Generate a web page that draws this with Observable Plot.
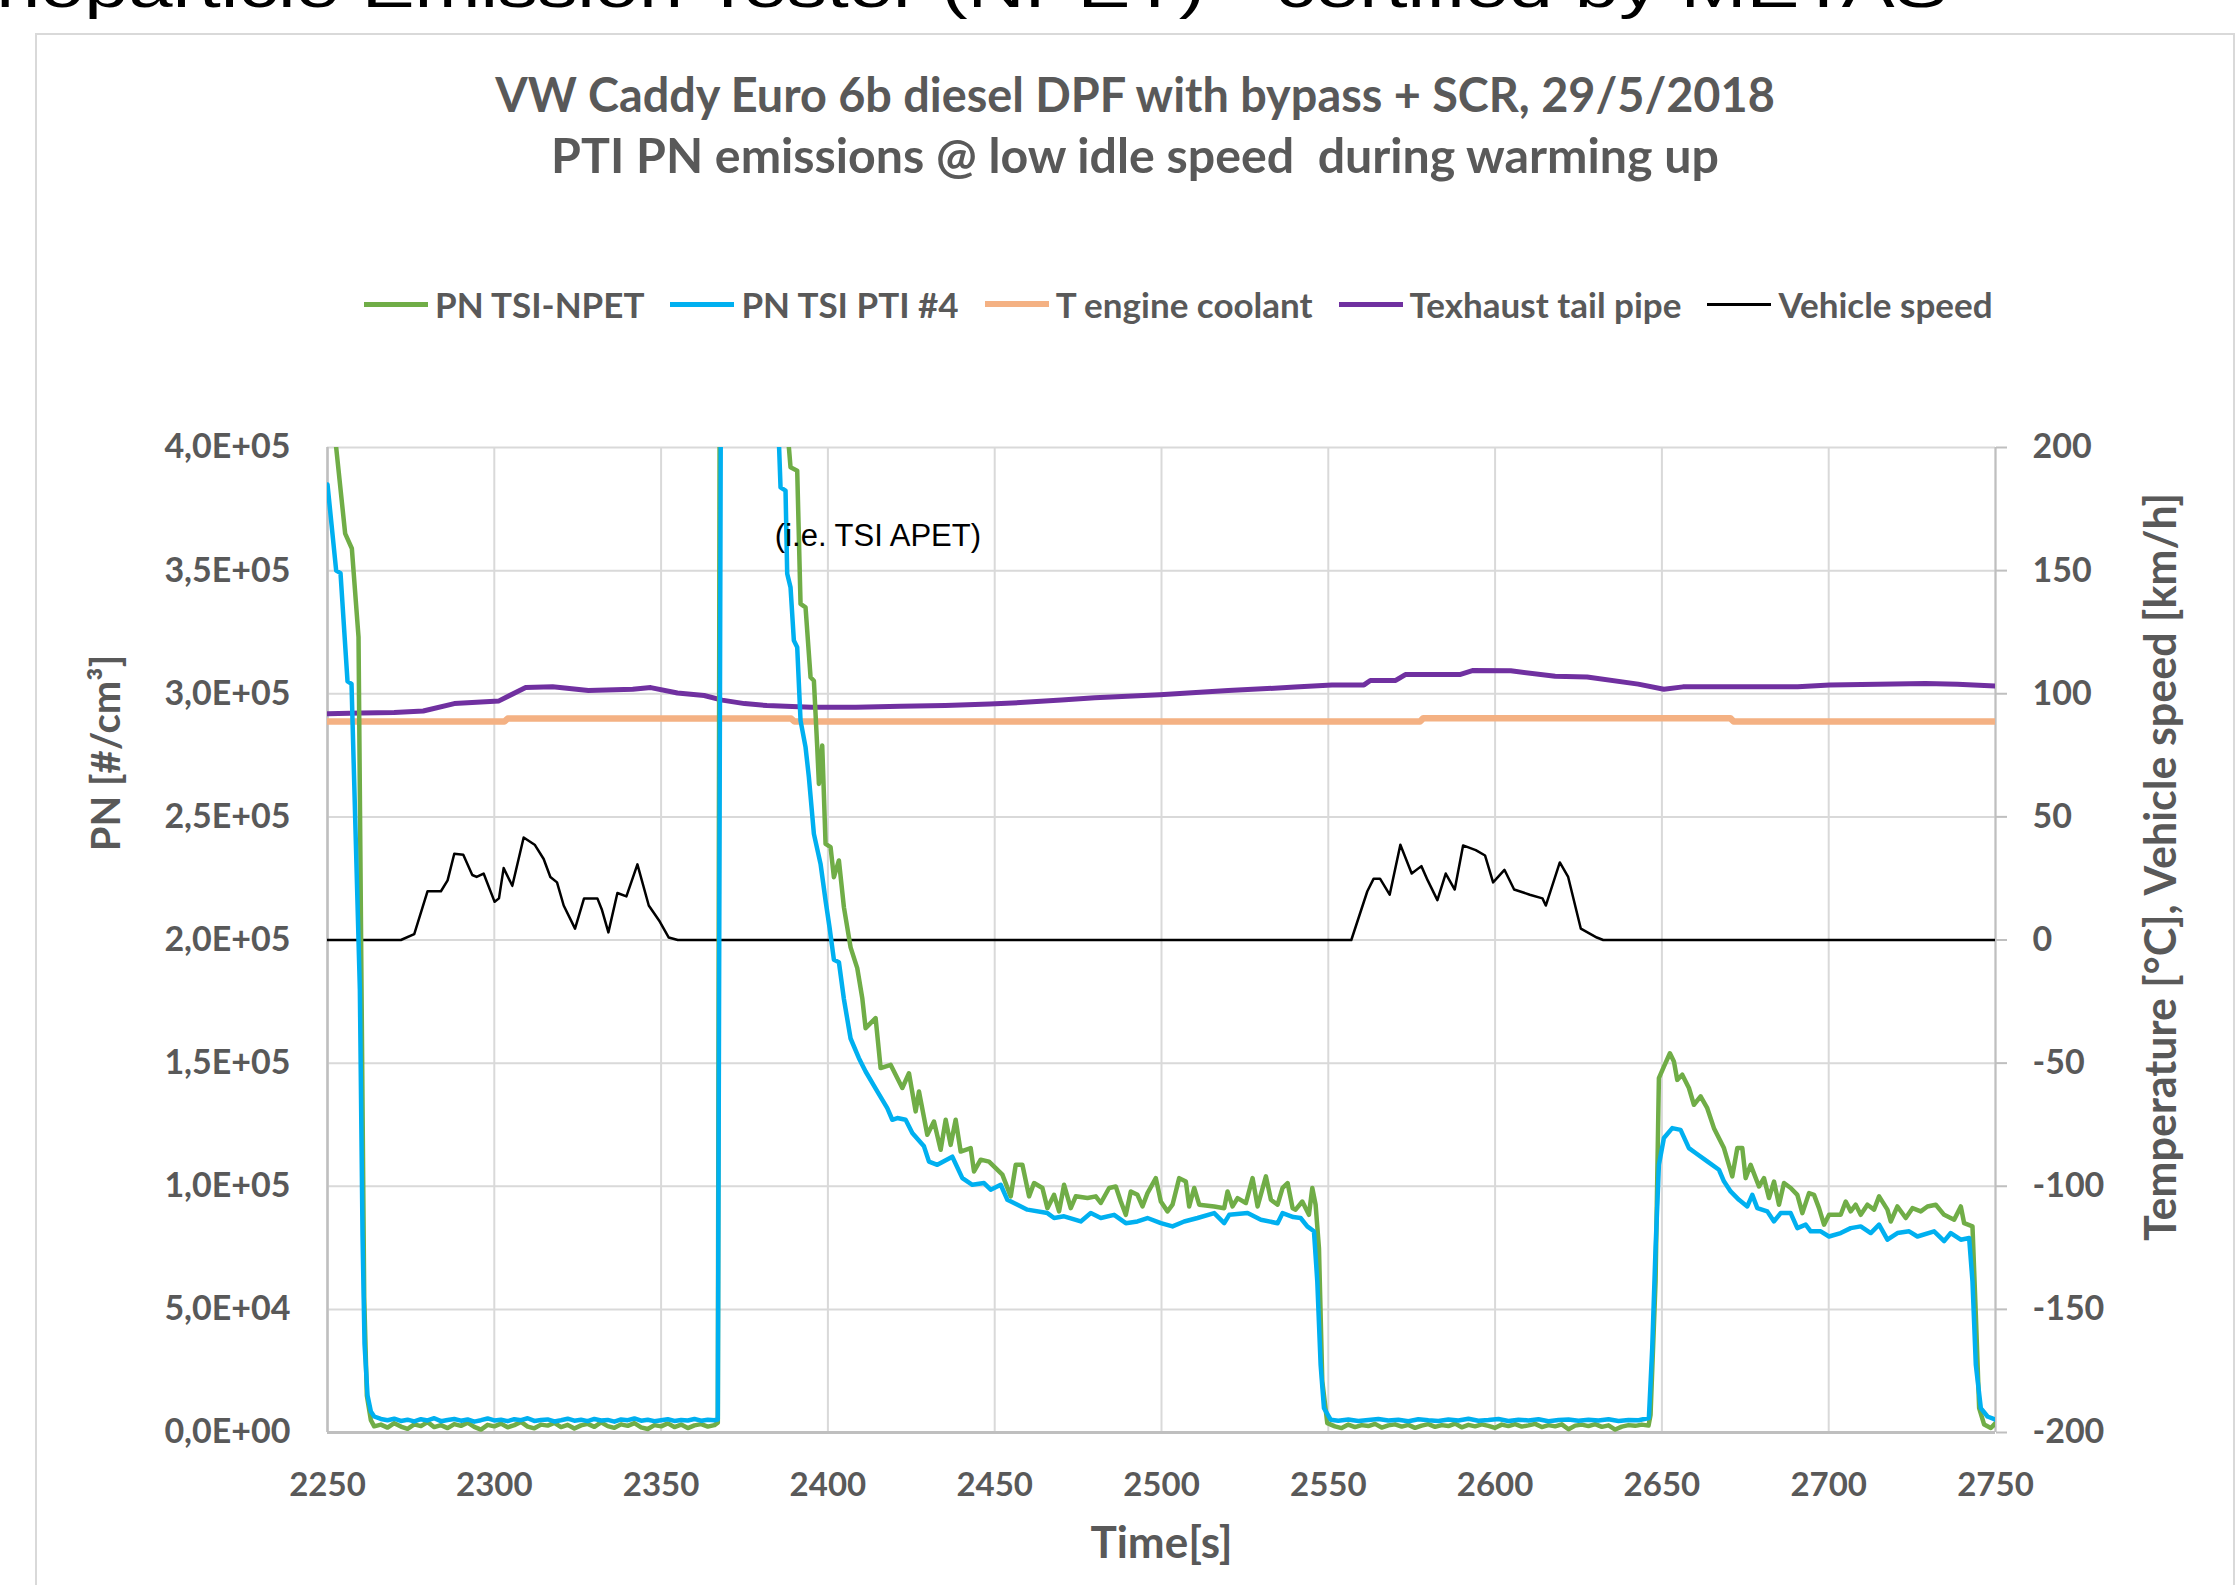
<!DOCTYPE html>
<html>
<head>
<meta charset="utf-8">
<script src="https://cdn.jsdelivr.net/npm/d3@7"></script>
<script src="https://cdn.jsdelivr.net/npm/@observablehq/plot@0.6"></script>
<style>
  html, body { margin: 0; padding: 0; background: #fff; }
  #page { position: relative; width: 2238px; height: 1585px; overflow: hidden; background: #fff; }
  #slidetitle { position: absolute; left: -105px; top: -43px; font-family: "Liberation Sans", Arial, sans-serif; font-size: 60px; line-height: 60px; color: #000; white-space: nowrap; transform: scaleX(1.32); transform-origin: left top; }
  #frame { position: absolute; left: 35px; top: 33px; width: 2200px; height: 1600px; box-sizing: border-box; border: 2.5px solid #d9d9d9; }
  .title { position: absolute; transform: translate(-50%, -50%); white-space: nowrap; font-family: Lato, "Open Sans", sans-serif; font-weight: bold; color: #595959; }
  #legend { position: absolute; left: 364px; top: 304px; transform: translateY(-50%); display: flex; align-items: center; gap: 26px; font-family: Lato, "Open Sans", sans-serif; font-weight: bold; color: #595959; font-size: 35px; white-space: nowrap; }
  .item { display: flex; align-items: center; gap: 7px; }
  .sw { width: 64px; display: inline-block; }
  #chart { position: absolute; left: 0; top: 380px; }
</style>
</head>
<body>
<div id="page">
  <div id="slidetitle">Nanoparticle Emission Tester (NPET) - certified by METAS</div>
  <div id="frame"></div>
  <div class="title" id="t1" style="left:1135px; top:94px; font-size:46.8px;">VW Caddy Euro 6b diesel DPF with bypass + SCR, 29/5/2018</div>
  <div class="title" id="t2" style="left:1135px; top:154px; font-size:48.3px;">PTI PN emissions @ low idle speed&nbsp; during warming up</div>
  <div id="legend"></div>
  <div id="chart"></div>
</div>
<script>
// ---------------- data (time [s], value) ----------------
const xTicks = [2250, 2300, 2350, 2400, 2450, 2500, 2550, 2600, 2650, 2700, 2750];
const pnTicks = [0, 50000, 100000, 150000, 200000, 250000, 300000, 350000, 400000];
const rightTicks = [-200, -150, -100, -50, 0, 50, 100, 150, 200];

const seriesNames = ["PN TSI-NPET", "PN TSI PTI #4", "T engine coolant", "Texhaust tail pipe", "Vehicle speed"];
const seriesColors = ["#70ad47", "#00b0f0", "#f4b183", "#7030a0", "#000000"];

// PN TSI-NPET [#/cm3]
const pnNpet = [
  [2250,430000],[2252.6,400000],[2255.3,365000],[2257.3,359000],[2259.3,323000],[2260.2,180000],[2261,55000],[2261.8,15000],[2263,5000],[2264,2500],
  [2266,3200],[2268,2000],[2270,3800],[2272,2400],[2274,1500],[2276,3300],[2278,2600],[2280,4200],[2282,2200],[2284,3000],[2286,1800],[2288,3400],
  [2290,2700],[2292,4000],[2294,2300],[2296,1200],[2298,3100],[2300,2500],[2302,3600],[2304,2100],[2306,3000],[2308,4300],[2310,2400],[2312,1700],
  [2314,3200],[2316,2800],[2318,3900],[2320,2200],[2322,3100],[2324,1600],[2326,2900],[2328,3500],[2330,2300],[2332,4100],[2334,2600],[2336,1900],
  [2338,3300],[2340,2700],[2342,3800],[2344,2100],[2346,1400],[2348,3000],[2350,2500],[2352,3700],[2354,2200],[2356,3200],[2358,1800],[2360,2900],
  [2362,3400],[2364,2400],[2366,3000],[2367,4000],[2367.6,450000],[2370,600000],[2386,520000],[2388.3,400100],[2388.8,392000],[2390.8,390600],
  [2391.8,336500],[2393.3,335100],[2394.8,306700],[2395.8,305300],[2396.8,278300],[2397.3,263400],[2398.3,279000],[2399.3,239000],[2400.8,237700],
  [2401.8,225500],[2403.3,232300],[2404.8,213300],[2406.8,197000],[2408.8,188600],[2410.3,176400],[2411.3,164200],[2414.3,168300],[2415.8,148000],
  [2418.8,149300],[2422.3,139900],[2424.3,145900],[2426.3,130400],[2427.3,138500],[2429.8,120900],[2431.8,126300],[2433.8,114800],[2435.3,127000],
  [2436.8,116800],[2438.3,127000],[2439.8,114100],[2442.8,115500],[2443.8,106000],[2445.8,110800],[2448.3,110000],[2452.3,104700],[2454.8,95900],
  [2456.3,108700],[2458.3,108700],[2460.3,95900],[2461.8,101300],[2464.3,99300],[2465.8,91100],[2467.8,96500],[2469.3,89800],[2470.8,100600],
  [2472.8,91100],[2474.3,95900],[2477.8,95200],[2480.3,95900],[2481.8,93200],[2484.3,99300],[2486.3,99900],[2487.8,93800],[2489.3,88400],
  [2490.8,97900],[2492.8,96500],[2494.3,91800],[2495.8,97200],[2498.3,103300],[2499.8,93800],[2501.8,89800],[2503.3,92500],[2505.3,103300],
  [2507.3,101900],[2508.3,91800],[2509.8,99300],[2511.3,92500],[2515.8,91800],[2518.8,91100],[2519.8,97900],[2521.3,91800],[2522.8,95200],
  [2525.3,93200],[2527.3,103300],[2528.8,91800],[2531.3,104000],[2532.8,94500],[2534.8,92500],[2536.3,99300],[2537.8,101300],[2539.3,91100],
  [2540.2,90500],[2542.2,93800],[2544.2,88400],[2545.2,99300],[2546.2,92500],[2547.2,74900],[2548.2,20800],[2549.7,3800],
  [2552,2500],[2554,1800],[2556,3200],[2558,2200],[2560,3000],[2562,2600],[2564,3500],[2566,2000],[2568,2900],[2570,3300],[2572,2400],[2574,3100],
  [2576,1900],[2578,2800],[2580,3400],[2582,2300],[2584,3000],[2586,2600],[2588,3600],[2590,2100],[2592,3100],[2594,2500],[2596,3300],[2598,2700],
  [2600,1900],[2602,3200],[2604,2600],[2606,3400],[2608,2400],[2610,2900],[2612,3500],[2614,2200],[2616,3000],[2618,2500],[2620,3300],[2622,1300],
  [2624,2800],[2626,3200],[2628,2600],[2630,3400],[2632,2300],[2634,2900],[2636,1200],[2638,2400],[2640,3000],[2642,2700],[2644,3200],[2646,2800],
  [2646.6,7200],[2648.1,61400],[2649.1,143900],[2650.6,148600],[2652.4,154000],[2653.6,150700],[2654.6,143200],[2656.1,145300],[2658.1,139900],
  [2659.6,133100],[2661.6,136500],[2663.6,131700],[2665.6,123600],[2668.6,115500],[2671.1,104000],[2672.6,115500],[2674.1,115500],[2675.1,103300],
  [2676.6,108700],[2679.1,99900],[2680.6,103300],[2682.1,95200],[2683.6,101900],[2685.1,92500],[2686.6,101300],[2688.6,99300],[2690.6,96500],
  [2692.1,89100],[2694.1,97200],[2695.6,96500],[2697.1,91100],[2698.6,84400],[2700.1,88400],[2703.6,88400],[2705.1,93800],[2706.6,89800],
  [2708.1,92500],[2709.6,88400],[2711.6,92500],[2713.6,90500],[2715.1,95900],[2717.6,90500],[2718.6,85700],[2720.6,91800],[2723.1,87100],
  [2725.1,91100],[2727.6,89800],[2729.6,91800],[2732.1,92500],[2734.6,88400],[2737.6,86400],[2739.6,91800],[2740.6,85000],[2743.1,83700],
  [2744.1,47900],[2745.1,9900],[2746.6,3200],[2748.6,1800],[2750,3800]
];

// PN TSI PTI #4 [#/cm3]
const pnPti4 = [
  [2250,385000],[2252.6,350000],[2253.9,349000],[2256,305000],[2257.2,304000],[2259.7,180000],[2260.5,80000],[2261.1,36000],[2262,15000],[2263,8500],
  [2264,6500],[2266,5500],[2268,5000],[2270,5600],[2272,4700],[2274,5200],[2276,4500],[2278,5400],[2280,4900],[2282,5800],[2284,4600],[2286,5100],
  [2288,5500],[2290,4800],[2292,5300],[2294,4400],[2296,5000],[2298,5700],[2300,4900],[2302,5200],[2304,4600],[2306,5400],[2308,5000],[2310,5800],
  [2312,4700],[2314,5100],[2316,5300],[2318,4500],[2320,5000],[2322,5600],[2324,4800],[2326,5200],[2328,4600],[2330,5500],[2332,4900],[2334,5100],
  [2336,4400],[2338,5300],[2340,5000],[2342,5700],[2344,4800],[2346,5200],[2348,4600],[2350,5000],[2352,5400],[2354,4700],[2356,5100],[2358,4900],
  [2360,5500],[2362,4800],[2364,5200],[2366,5000],[2367,5300],[2368,460000],[2370,700000],[2384,500000],[2385.3,402800],[2385.8,383800],
  [2387.3,382500],[2387.8,348700],[2388.8,343200],[2389.8,321600],[2390.8,318900],[2391.8,289100],[2393.3,278300],[2394.3,266100],[2395.8,243100],
  [2397.8,230900],[2399.3,216000],[2400.5,205000],[2401.8,192000],[2403.3,191000],[2404.8,176000],[2406.8,160000],[2409.3,152000],[2411.3,146600],
  [2414.8,138500],[2417.8,131700],[2419.3,127000],[2420.8,127700],[2423.3,127000],[2425.3,121600],[2428.8,116200],[2430.3,110000],[2432.8,108700],
  [2437.3,112000],[2440.3,103300],[2443.3,100600],[2446.8,101300],[2448.8,98600],[2451.8,100600],[2453.8,94500],[2459.8,90500],[2465.8,89100],
  [2467.8,87100],[2470.8,87800],[2475.8,85700],[2478.8,89100],[2481.8,87100],[2485.8,88400],[2489.3,85000],[2492.8,85700],[2495.8,87100],
  [2499.8,85000],[2503.3,83700],[2506.8,85700],[2510.8,87100],[2515.8,89100],[2518.8,85000],[2520.3,88400],[2525.8,89100],[2529.8,86400],
  [2534.8,85000],[2536.3,89100],[2539.5,87500],[2541.7,87100],[2543.7,83700],[2545.7,81700],[2546.7,61400],[2547.7,27500],[2548.7,9900],[2550.7,5200],
  [2553,4800],[2556,5300],[2559,4700],[2562,5100],[2565,5500],[2568,4900],[2571,5200],[2574,4600],[2577,5400],[2580,5000],[2583,4700],[2586,5300],
  [2589,4900],[2592,5600],[2595,4800],[2598,5100],[2601,5500],[2604,4700],[2607,5200],[2610,4900],[2613,5400],[2616,4600],[2619,5100],[2622,5300],
  [2625,4800],[2628,5200],[2631,4900],[2634,5400],[2637,4700],[2640,5100],[2643,5000],[2646.1,5900],[2647.1,34300],[2648.1,74900],[2649.1,108700],
  [2650.6,119600],[2653.1,123600],[2655.6,122900],[2658.1,115500],[2660.1,113500],[2663.6,110100],[2667.1,106700],[2668.6,102000],[2670.6,97900],
  [2673.1,94500],[2675.6,91800],[2677.1,96500],[2678.6,91100],[2681.6,89800],[2683.6,85700],[2685.6,89100],[2688.6,89100],[2690.6,83000],
  [2693.1,84400],[2694.6,81700],[2697.6,81700],[2700.1,79600],[2703.6,81000],[2706.6,83000],[2709.6,83700],[2712.6,81000],[2715.1,84400],
  [2717.6,78300],[2720.6,81000],[2724.1,81700],[2726.6,79600],[2731.6,81700],[2734.6,77700],[2736.6,81000],[2739.6,78300],[2742.1,79000],
  [2743.1,61400],[2744.1,27500],[2745.6,9900],[2747.6,6500],[2750,5200]
];

// T engine coolant [°C]
const tCoolant = [
  [2250,88.7],[2303,88.7],[2304,89.9],[2389,89.9],[2390,88.7],[2577.5,88.7],[2578.5,90.1],[2670.5,90.1],[2671.5,88.7],[2750,88.7]
];

// Texhaust tail pipe [°C]
const tExhaust = [
  [2250,91.9],[2260,92.2],[2270,92.4],[2278.7,93],[2288,96],[2301.4,97.1],[2304,98.9],[2309.4,102.5],[2317.5,102.8],[2328.2,101.3],[2341.5,101.8],
  [2346.9,102.5],[2354.9,100.3],[2362.9,99.3],[2368.3,97.4],[2375,96],[2381.7,95.2],[2395,94.5],[2408.4,94.5],[2421.8,94.9],[2435.2,95.2],
  [2448.5,95.8],[2457.7,96.4],[2470,97.5],[2480,98.4],[2499.5,99.6],[2520,101.3],[2540,102.7],[2551.1,103.6],[2560.7,103.6],[2562.6,105.4],
  [2570.2,105.4],[2573.1,107.8],[2589.4,107.8],[2593.2,109.4],[2604.7,109.3],[2618,107.1],[2627.6,106.8],[2642.9,103.9],[2650.6,101.8],
  [2656.3,102.8],[2690.7,102.8],[2700.3,103.6],[2729,104.2],[2738.6,103.9],[2750,103.1]
];

// Vehicle speed [km/h]
const vSpeed = [
  [2250,0],[2272,0],[2276,2.4],[2280,19.8],[2284,19.8],[2286,24.2],[2288,35],[2290.7,34.6],[2293.4,26.4],[2294.7,25.6],[2296.8,27],[2300.1,15.5],
  [2301.4,16.9],[2302.8,29.2],[2305.4,22],[2308.8,41.6],[2312.1,38.7],[2314.8,32.9],[2316.8,25.6],[2318.8,23.4],[2320.8,14],[2324.2,4.6],
  [2326.9,16.9],[2330.9,16.9],[2332.2,12.5],[2334.2,3.1],[2336.9,19.1],[2339.6,17.7],[2342.9,30.7],[2346.3,14],[2349.6,7.5],[2352.3,1],[2355,0],
  [2556.9,0],[2561.7,19.8],[2563.6,24.9],[2565.5,24.9],[2568.4,18.4],[2571.6,38.7],[2575,27],[2577.9,30],[2579.8,24.2],[2582.7,16.2],[2585.2,27],
  [2587.9,20.5],[2590.4,38.4],[2594.2,36.5],[2597,34.3],[2599.4,23.4],[2602.8,28.5],[2605.7,20.5],[2610.4,18.4],[2614.2,16.9],[2615.2,14],
  [2619.4,31.5],[2621.9,25.6],[2625.7,4.6],[2630.5,1],[2632.4,0],[2750,0]
];

const annotation = [{t: 2415, pn: 364000, text: "(i.e. TSI APET)"}];

// ---------------- helpers ----------------
// secondary axis (-200..200) mapped onto the primary PN scale (0..4e5)
const toPrimary = v => (v + 200) * 1000;
const fromPrimary = d => Math.round(d / 1000 - 200);
const sci = d => {
  if (d === 0) return "0,0E+00";
  const e = Math.floor(Math.log10(d));
  const m = d / Math.pow(10, e);
  return m.toFixed(1).replace(".", ",") + "E+" + String(e).padStart(2, "0");
};

// ---------------- legend ----------------
const legendWidths = [5, 5, 6, 5, 3];
const legend = document.getElementById("legend");
seriesNames.forEach((name, i) => {
  const it = document.createElement("div");
  it.className = "item";
  const sw = document.createElement("span");
  sw.className = "sw";
  sw.style.height = legendWidths[i] + "px";
  sw.style.background = seriesColors[i];
  const tx = document.createElement("span");
  tx.textContent = name;
  it.appendChild(sw); it.appendChild(tx);
  legend.appendChild(it);
});

// ---------------- chart ----------------
const font = "Lato, 'Open Sans', sans-serif";
const chart = Plot.plot({
  width: 2238,
  height: 1205,
  marginLeft: 327,
  marginRight: 243,
  marginTop: 67,
  marginBottom: 153,
  style: {fontFamily: font, background: "transparent", overflow: "visible"},
  x: {domain: [2250, 2750]},
  y: {domain: [0, 400000]},
  marks: [
    Plot.gridX(xTicks, {stroke: "#d9d9d9", strokeOpacity: 1, strokeWidth: 2}),
    Plot.gridY(pnTicks, {stroke: "#d9d9d9", strokeOpacity: 1, strokeWidth: 2}),
    Plot.ruleX([2250], {stroke: "#bfbfbf", strokeWidth: 2.5}),
    Plot.ruleX([2750], {stroke: "#bfbfbf", strokeWidth: 2}),
    Plot.ruleY([0], {stroke: "#bfbfbf", strokeWidth: 3}),
    Plot.axisX(xTicks, {tickSize: 0, tickPadding: 40, tickFormat: d => String(d), label: null,
      fill: "#595959", fontSize: 33, fontWeight: "bold", fontFamily: font}),
    Plot.axisY(pnTicks, {anchor: "left", tickSize: 0, tickPadding: 37, tickFormat: sci, label: null,
      fill: "#595959", fontSize: 34, fontWeight: "bold", fontFamily: font}),
    Plot.axisY(pnTicks, {anchor: "right", tickSize: 11, tickPadding: 26, tickFormat: d => String(fromPrimary(d)), label: null,
      stroke: "#bfbfbf", strokeWidth: 2, fill: "#595959", fontSize: 34, fontWeight: "bold", fontFamily: font}),
    Plot.text(["Time[s]"], {frameAnchor: "bottom", dy: 111, textAnchor: "middle", lineAnchor: "middle",
      fill: "#595959", fontSize: 44, fontWeight: "bold", fontFamily: font}),
    Plot.text(["PN [#/cm³]"], {frameAnchor: "left", dx: -220, dy: -187, rotate: -90, textAnchor: "middle", lineAnchor: "middle",
      fill: "#595959", fontSize: 40, fontWeight: "bold", fontFamily: font}),
    Plot.text(["Temperature [°C], Vehicle speed [km/h]"], {frameAnchor: "right", dx: 167, dy: -73, rotate: -90, textAnchor: "middle", lineAnchor: "middle",
      fill: "#595959", fontSize: 43, fontWeight: "bold", fontFamily: font}),
    Plot.line(tCoolant, {x: d => d[0], y: d => toPrimary(d[1]), stroke: seriesColors[2], strokeWidth: 6.5, clip: true}),
    Plot.line(tExhaust, {x: d => d[0], y: d => toPrimary(d[1]), stroke: seriesColors[3], strokeWidth: 5, clip: true}),
    Plot.line(vSpeed, {x: d => d[0], y: d => toPrimary(d[1]), stroke: seriesColors[4], strokeWidth: 2.5, clip: true}),
    Plot.line(pnNpet, {x: d => d[0], y: d => d[1], stroke: seriesColors[0], strokeWidth: 4.5, clip: true}),
    Plot.line(pnPti4, {x: d => d[0], y: d => d[1], stroke: seriesColors[1], strokeWidth: 4.5, clip: true}),
    Plot.text(annotation, {x: "t", y: "pn", text: "text", fill: "#000", fontSize: 31, fontFamily: "'Liberation Sans', Arial, sans-serif"})
  ]
});
document.getElementById("chart").appendChild(chart);
</script>
</body>
</html>
